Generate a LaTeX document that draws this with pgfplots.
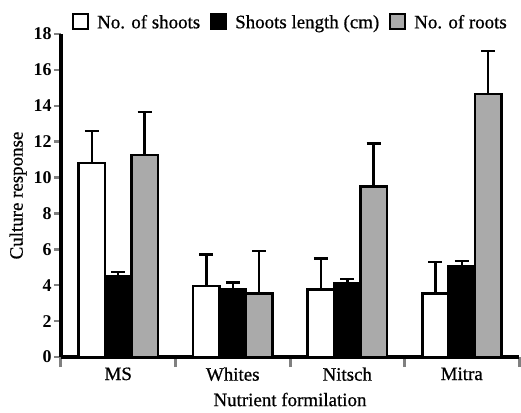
\documentclass[border=0pt]{standalone}
\usepackage{fontspec}
\setmainfont{Liberation Serif}
\newfontfamily\heavy{Liberation Serif}[FakeBold=0.7]
\usepackage{pgfplots}
\pgfplotsset{compat=1.18}
\definecolor{rootgray}{RGB}{170,170,170}

\begin{document}
\begin{tikzpicture}[font=\fontsize{19}{21}\selectfont\heavy]
\begin{axis}[
  name=ax,
  scale only axis,
  width=458bp, height=323bp,
  xmin=0.5, xmax=4.5,
  ymin=0, ymax=18,
  ybar=0pt,
  bar width=0.23,
  axis lines=left,
  x axis line style={-}, y axis line style={-},
  axis line style={line width=4bp},
  tick align=outside,
  xtick={1,2,3,4},
  xticklabels={MS,Whites,Nitsch,Mitra},
  major x tick style={draw=none},
  minor xtick={0.5,1.5,2.5,3.5,4.5},
  minor tick length=10bp,
  minor x tick style={line width=3bp},
  ytick={0,2,...,18},
  major tick length=7bp,
  y tick style={line width=2.5bp},
  /pgf/number format/assume math mode=true,
  yticklabel style={font=\fontsize{18}{19}\selectfont\bfseries, xshift=1bp},
  xticklabel style={font=\fontsize{19}{21}\selectfont\heavy},
  xlabel={Nutrient formilation},
  xlabel style={yshift=-5bp},
  ylabel={Culture response},
  legend style={draw=none, fill=none, legend columns=-1,
    at={(axis description cs:0,1)}, anchor=south west, xshift=0bp, yshift=0bp,
    font=\fontsize{19}{21}\selectfont\heavy},
  legend image code/.code={\draw[#1, line width=2bp] (9bp,-7bp) rectangle (24bp,8bp);
    \path[draw=none, fill=none] (0bp,0bp) rectangle (31bp,0.5bp);},
]
\addplot[fill=white, draw=black, line width=2.5bp,
  error bars/.cd, y dir=plus, y explicit,
  error bar style={line width=2.5bp},
  error mark options={rotate=90, mark size=7bp, line width=2.5bp}]
  coordinates {(1,10.8) +- (0,1.8) (2,3.95) +- (0,1.75) (3,3.75) +- (0,1.75) (4,3.55) +- (0,1.75)};
\addplot[fill=black, draw=black, line width=2.5bp,
  error bars/.cd, y dir=plus, y explicit,
  error bar style={line width=2.5bp},
  error mark options={rotate=90, mark size=7bp, line width=2.5bp}]
  coordinates {(1,4.5) +- (0,0.25) (2,3.8) +- (0,0.35) (3,4.1) +- (0,0.25) (4,5.05) +- (0,0.3)};
\addplot[fill=rootgray, draw=black, line width=2.5bp,
  error bars/.cd, y dir=plus, y explicit,
  error bar style={line width=2.5bp},
  error mark options={rotate=90, mark size=7bp, line width=2.5bp}]
  coordinates {(1,11.25) +- (0,2.4) (2,3.55) +- (0,2.35) (3,9.5) +- (0,2.4) (4,14.65) +- (0,2.4)};
\legend{No. of shoots, Shoots length (cm), No. of roots}
\end{axis}
\pgfresetboundingbox
\path[use as bounding box] ([shift={(-61bp,-56bp)}]ax.south west) rectangle ([shift={(2bp,34bp)}]ax.north east);
\end{tikzpicture}
\end{document}
